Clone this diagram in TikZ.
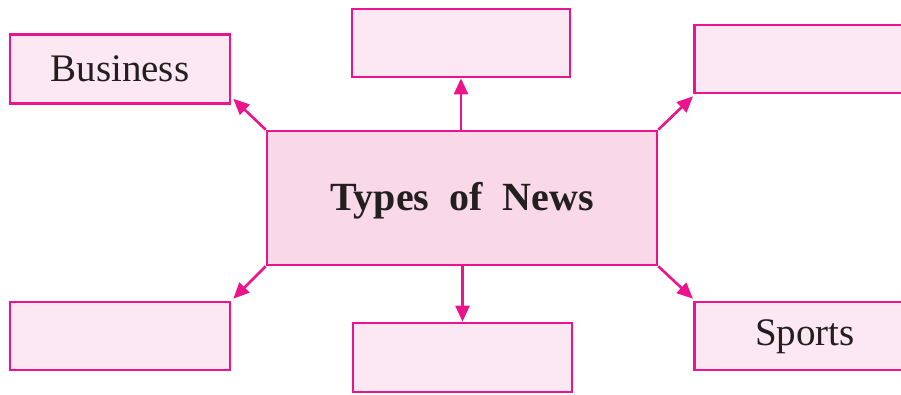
\documentclass[tikz,border=0pt]{standalone}
\usepackage{fontspec}
\setmainfont{Liberation Serif}
\usetikzlibrary{arrows.meta}
\definecolor{mag}{RGB}{236,20,140}
\definecolor{lpink}{RGB}{252,232,242}
\definecolor{cpink}{RGB}{249,217,232}
\definecolor{ink}{RGB}{35,31,32}
\tikzset{
  leaf/.style={draw=mag, line width=2.6pt, fill=lpink, inner sep=0pt, text=ink,
    font=\fontsize{39}{44}\selectfont},
  hub/.style={draw=mag, line width=2.6pt, fill=cpink, inner sep=0pt, text=ink,
    font=\fontsize{40}{46}\selectfont\bfseries},
  link/.style={draw=mag, line width=2.6pt, -{Triangle[length=16pt,width=14pt]}}
}
\begin{document}
\begin{tikzpicture}[x=1pt,y=-1pt]
\useasboundingbox (0,0) rectangle (901,395);
\node[hub, minimum width=390pt, minimum height=134pt] (c) at (462,198) {};
\node[text=ink, font=\fontsize{40}{46}\selectfont\bfseries] (ct) at (462,201) {Types\hspace{0.5em}of\hspace{0.5em}News};
\node[leaf, minimum width=220pt, minimum height=69pt] (tl) at (120,69) {Business};
\node[leaf, minimum width=218pt, minimum height=68pt] (tc) at (461,43) {};
\node[leaf, minimum width=214pt, minimum height=68pt, anchor=west] (tr) at (693,59) {};
\node[leaf, minimum width=220pt, minimum height=68pt] (bl) at (120,336) {};
\node[leaf, minimum width=219pt, minimum height=69pt] (bc) at (462.5,357.5) {};
\node[leaf, minimum width=214pt, minimum height=68pt, anchor=west] (br) at (693,336) {};
\node[text=ink, font=\fontsize{39}{44}\selectfont] (sp) at (805,337) {Sports};
\draw[link] (c.north west) -- ([shift={(2,-6)}]tl.south east);
\draw[link] (c.north -| tc.south) -- (tc.south);
\draw[link] (c.north east) -- ([shift={(0,2)}]tr.south west);
\draw[link] (c.south west) -- ([shift={(2,-2)}]bl.north east);
\draw[link] (c.south -| bc.north) -- (bc.north);
\draw[link] (c.south east) -- ([shift={(0,-2)}]br.north west);
\end{tikzpicture}
\end{document}
